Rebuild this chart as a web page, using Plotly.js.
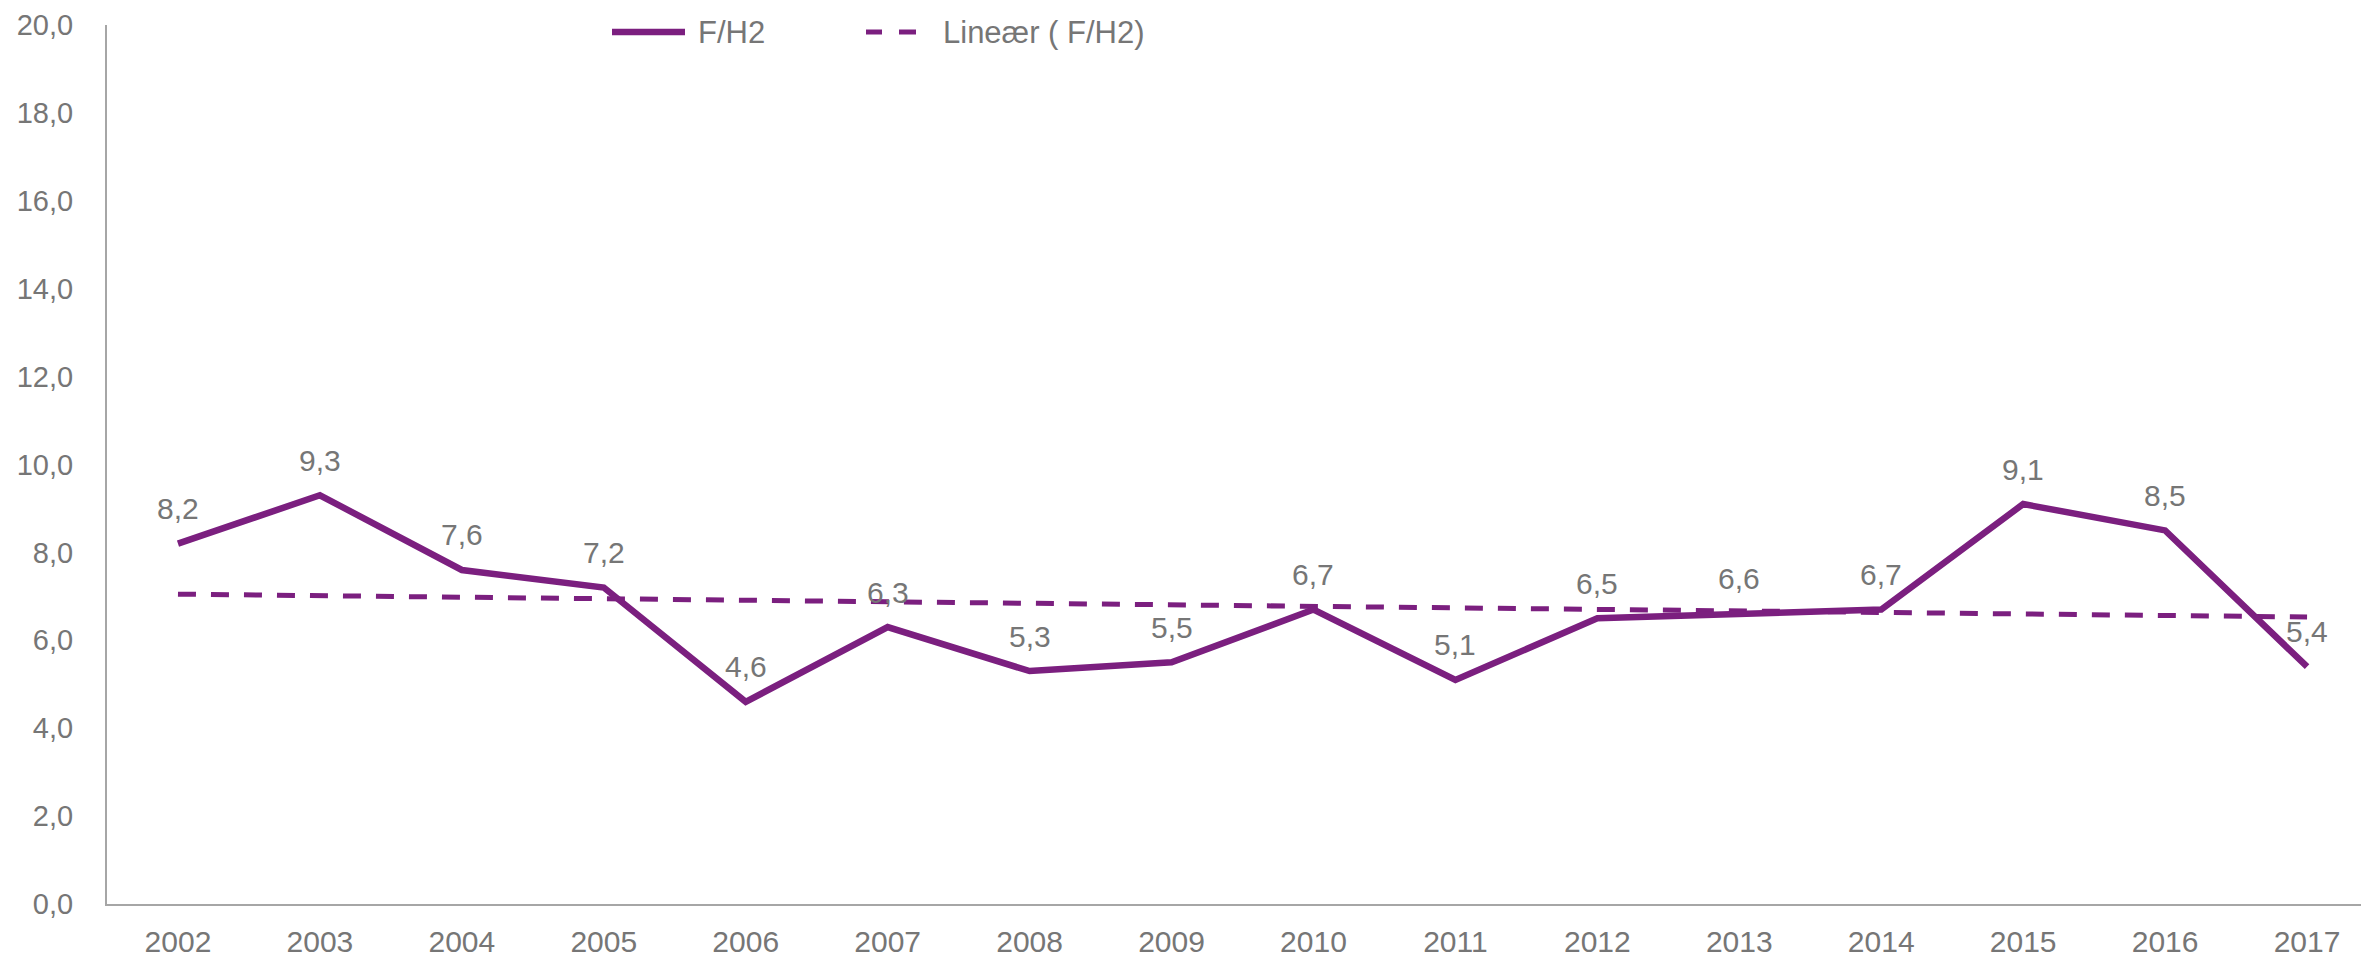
<!DOCTYPE html>
<html>
<head>
<meta charset="utf-8">
<script src="https://cdn.plot.ly/plotly-3.0.1.min.js"></script>
<style>
html,body{margin:0;padding:0;background:#fff;}
#chart{width:2361px;height:957px;}
</style>
</head>
<body>
<div id="chart"></div>
<script>
// Data
var years = ['2002','2003','2004','2005','2006','2007','2008','2009','2010','2011','2012','2013','2014','2015','2016','2017'];
var values = [8.2, 9.3, 7.6, 7.2, 4.6, 6.3, 5.3, 5.5, 6.7, 5.1, 6.5, 6.6, 6.7, 9.1, 8.5, 5.4];
var trendYears = ['2002', '2017'];
var trendValues = [7.05, 6.53];
var seriesName = 'F/H2';
var trendName = 'Lineær ( F/H2)';
var yTicks = [0, 2, 4, 6, 8, 10, 12, 14, 16, 18, 20];

var purple = '#7B1F7F';
var grey = '#767676';
var FONT = 'Liberation Sans, Arial, sans-serif';

var W = 2361, H = 957;
var mL = 107, mR = 0, mT = 25, mB = 53;
var plotW = W - mL - mR, plotH = H - mT - mB;
function px2paperX(px){ return (px - mL) / plotW; }
function px2paperY(py){ return (H - mB - py) / plotH; }

var traces = [
  {
    x: trendYears, y: trendValues, type: 'scatter', mode: 'lines', name: trendName,
    line: {color: purple, width: 5, dash: '18px,15px'}, hoverinfo: 'skip', showlegend: false
  },
  {
    x: years, y: values, type: 'scatter', mode: 'lines', name: seriesName,
    line: {color: purple, width: 6.5}, hoverinfo: 'skip', showlegend: false
  }
];

var annotations = values.map(function(v, i){
  return {
    x: years[i], y: v, xref: 'x', yref: 'y',
    text: v.toFixed(1).replace('.', ','),
    showarrow: false, yanchor: 'middle', xanchor: 'center', yshift: 35,
    font: {family: FONT, size: 30, color: grey}
  };
});
// category positions for annotations: use index along the category array
annotations.forEach(function(a, i){ a.x = i; });

// custom legend (decoration)
var legY = px2paperY(32);
annotations.push({
  x: px2paperX(696), y: legY, xref: 'paper', yref: 'paper', text: seriesName,
  showarrow: false, xanchor: 'left', yanchor: 'middle',
  font: {family: FONT, size: 31, color: grey}
});
annotations.push({
  x: px2paperX(941), y: legY, xref: 'paper', yref: 'paper', text: trendName,
  showarrow: false, xanchor: 'left', yanchor: 'middle',
  font: {family: FONT, size: 31, color: grey}
});
var shapes = [
  {type: 'line', xref: 'paper', yref: 'paper', x0: px2paperX(612), x1: px2paperX(685), y0: legY, y1: legY,
   line: {color: purple, width: 6.5}},
  {type: 'line', xref: 'paper', yref: 'paper', x0: px2paperX(866), x1: px2paperX(882), y0: legY, y1: legY,
   line: {color: purple, width: 5}},
  {type: 'line', xref: 'paper', yref: 'paper', x0: px2paperX(899), x1: px2paperX(916), y0: legY, y1: legY,
   line: {color: purple, width: 5}}
];

var layout = {
  width: W, height: H,
  margin: {l: mL, r: mR, t: mT, b: mB, pad: 0},
  paper_bgcolor: '#ffffff', plot_bgcolor: '#ffffff',
  separators: ',.',
  showlegend: false,
  font: {family: FONT, color: grey, size: 28},
  xaxis: {
    type: 'category', categoryorder: 'array', categoryarray: years, range: [-0.5, 15.38],
    showgrid: false, zeroline: false, showline: true, linecolor: '#A6A6A6', linewidth: 2,
    ticks: '', tickfont: {family: FONT, size: 30, color: grey},
    ticklabelstandoff: 10, fixedrange: true
  },
  yaxis: {
    range: [0, 20], tickvals: yTicks, tickformat: '.1f',
    showgrid: false, zeroline: false, showline: true, linecolor: '#A6A6A6', linewidth: 2,
    ticks: '', tickfont: {family: FONT, size: 29, color: grey},
    ticklabelstandoff: 26, fixedrange: true
  },
  annotations: annotations,
  shapes: shapes
};

Plotly.newPlot('chart', traces, layout, {displayModeBar: false, staticPlot: true});
</script>
</body>
</html>
